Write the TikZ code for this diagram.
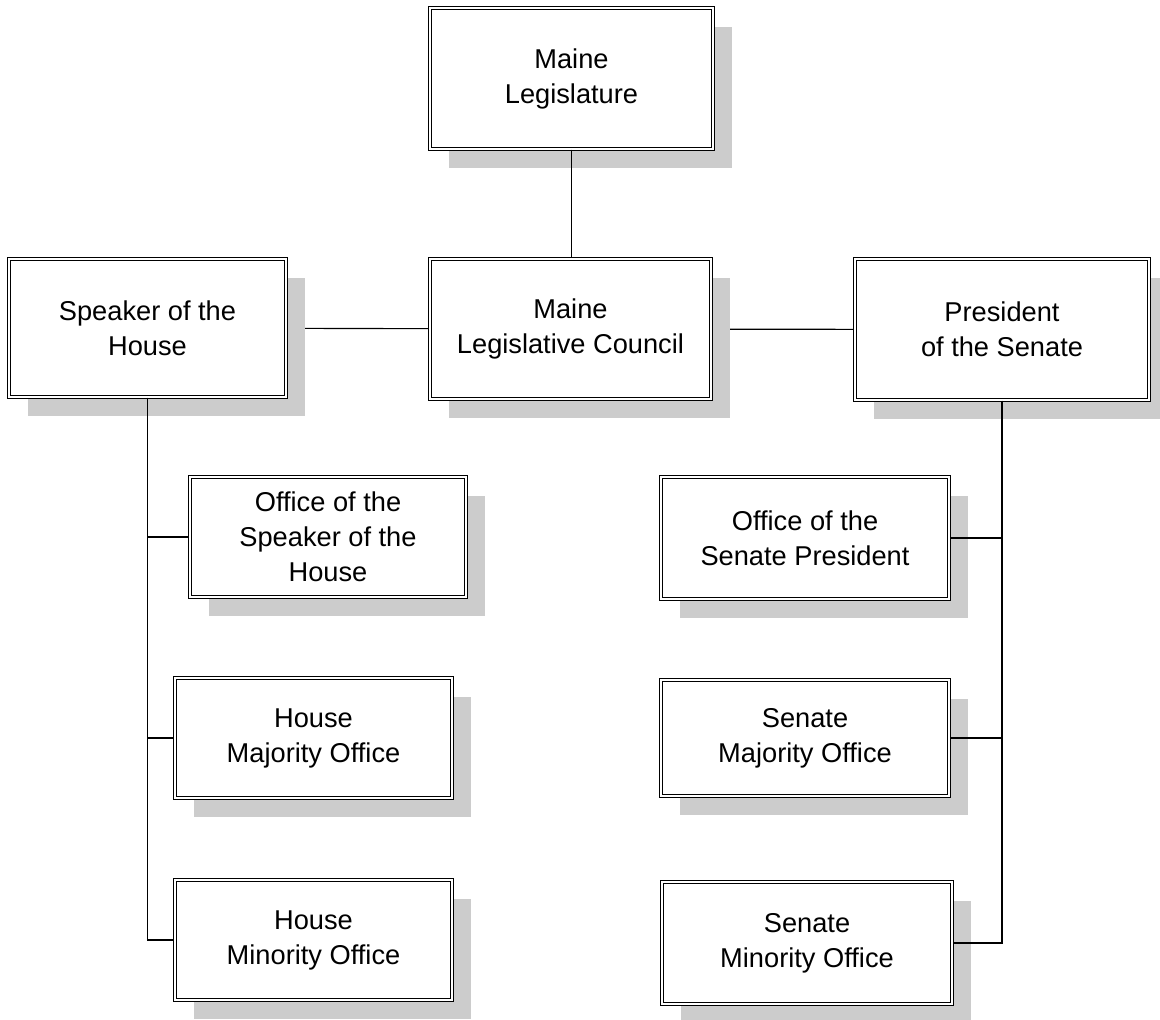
\documentclass[tikz,border=0pt]{standalone}
\usepackage{fontspec}
\setmainfont{Liberation Sans}
\usetikzlibrary{shadows,backgrounds}

\begin{document}
\begin{tikzpicture}[x=0.02cm, y=-0.02cm, link/.style={line width=0.65pt},
    org node/.style={rectangle,draw,double,line width=0.65pt,double distance=1.3pt,fill=white,align=center,inner sep=0pt,
        font=\fontsize{15.5}{19.9}\selectfont,
        drop shadow={shadow xshift=0.38cm,shadow yshift=-0.38cm,fill=black!20,opacity=1}}]

                    \useasboundingbox (0,0) rectangle (1160,1019);

                    \node[org node, minimum width=5.66cm, minimum height=2.82cm] at (571.5, 78.5) (leg) {Maine\\Legislature};
                    \node[org node, minimum width=5.54cm, minimum height=2.76cm] at (147.5, 328) (speaker) {Speaker of the\\House};
                    \node[org node, minimum width=5.62cm, minimum height=2.80cm] at (570.5, 329) (council) {Maine\\Legislative Council};
                    \node[org node, minimum width=5.88cm, minimum height=2.82cm] at (1002, 329.5) (pres) {President\\of the Senate};

                    \node[org node, minimum width=5.52cm, minimum height=2.40cm] at (328, 537) (ospeaker) {Office of the\\Speaker of the\\House};
                    \node[org node, minimum width=5.54cm, minimum height=2.40cm] at (313.5, 738) (hmaj) {House\\Majority Office};
                    \node[org node, minimum width=5.54cm, minimum height=2.40cm] at (313.5, 940) (hmin) {House\\Minority Office};

                    \node[org node, minimum width=5.76cm, minimum height=2.44cm] at (805, 538) (opres) {Office of the\\Senate President};
                    \node[org node, minimum width=5.76cm, minimum height=2.32cm] at (805, 738) (smaj) {Senate\\Majority Office};
                    \node[org node, minimum width=5.80cm, minimum height=2.44cm] at (807, 943) (smin) {Senate\\Minority Office};

                    % lines hidden under the shadows
                    \begin{scope}[on background layer]
                        \draw[link] (speaker) -- (council);
                        \draw[link] (council) -- (pres);
                    \end{scope}

                    \draw[link] (leg.south) -- (leg.south |- council.north);
                    \draw[link] (speaker.south) |- (hmin.west);
                    \draw[link] (speaker.south |- ospeaker.west) -- (ospeaker.west);
                    \draw[link] (speaker.south |- hmaj.west) -- (hmaj.west);
                    \draw[link] (pres.south) |- (smin.east);
                    \draw[link] (pres.south |- opres.east) -- (opres.east);
                    \draw[link] (pres.south |- smaj.east) -- (smaj.east);

                \end{tikzpicture}
\end{document}
